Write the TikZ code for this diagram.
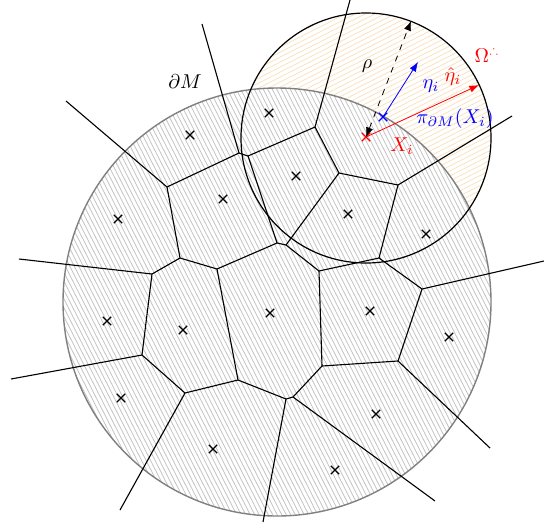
\documentclass[tikz,border=0pt]{standalone}
\usepackage{amsmath,amssymb}
\usepackage{xcolor}
\usepackage{tikz}
\usetikzlibrary{arrows.meta, positioning, calc, shapes.misc}
\definecolor{mBound}{RGB}{128,128,128}
\definecolor{mHatch}{RGB}{196,196,196}
\definecolor{omHatch}{RGB}{250,226,192}

\begin{document}
\begin{tikzpicture}[x=0.5pt, y=-0.5pt,
  site/.style={draw, cross out, minimum size=3.5pt, inner sep=0pt, line width=0.65pt},
  voredge/.style={line width=0.55pt},
  hatchM/.style={draw=mHatch, line width=0.4pt},
  hatchOm/.style={draw=omHatch, line width=0.4pt}]
\useasboundingbox (0,0) rectangle (544,525);

% Manifold M and ball Omega around X_i
\coordinate (Mc) at (277,302);
\coordinate (Oc) at (366,138);

\begin{scope}
  \clip (Oc) circle [radius=62.5pt];
  \foreach \k in {-28,...,28}
    \draw[hatchOm] (Oc) ++(-125, 5*\k+64) -- ++(250,-127);
\end{scope}
\fill[white] (Mc) circle [radius=107pt];
\begin{scope}
  \clip (Mc) circle [radius=107pt];
  \foreach \k in {-54,...,54}
    \draw[hatchM] (Mc) ++(4.5*\k-118,-232) -- ++(236,464);
\end{scope}

\draw[mBound, line width=0.7pt] (Mc) circle [radius=107pt];
\draw[line width=0.6pt] (Oc) circle [radius=62.5pt];

% Voronoi cells
\foreach \name/\pos in {a/{167,187}, b/{239,153}, c/{248,156}, d/{315,127},
   e/{339,173}, f/{398,185}, g/{379,258}, h/{277,243}, i/{286,245},
   j/{319,271}, k/{422,289}, l/{322,366}, m/{398,361}, n/{180,258},
   o/{152,274}, p/{217,269}, q/{238,380}, r/{142,355}, s/{185,393},
   t/{286,399}, u/{293,397},
   o1/{66,101}, o2/{202,24}, o3/{350,0}, o4/{512,116}, o5/{544,261},
   o6/{490,448}, o7/{435,501}, o8/{263,522}, o9/{120,510}, o10/{11,379},
   o11/{19,259}}
  \coordinate (v\name) at (\pos);

\foreach \a/\b in {o1/a, a/b, b/o2, b/c, c/d, d/o3, c/h, d/e, e/f, f/o4,
   f/g, e/i, h/i, i/j, g/j, g/k, k/o5, j/l, l/m, m/k, m/o6, l/u, u/t,
   u/o7, t/o8, t/q, q/p, p/h, p/n, n/a, n/o, o/o11, o/r, r/o10, r/s,
   s/q, s/o9}
  \draw[voredge] (v\a) -- (v\b);

% sample points
\foreach \x/\y [count=\n] in {190/135, 269/113, 118/219, 223/199, 296/176,
   348/214, 426/234, 107/321, 183/330, 270/313, 370/311, 449/337,
   121/398, 213/449, 376/414, 335/470}
  \node[site] (s\n) at (\x,\y) {};

\node[site, red] (Xi) at (366,137) {};
\node[site, blue] (proj) at (383,117) {};

% normals and radius
\coordinate (rhoEnd) at (411,21);
\coordinate (etaEnd) at (418,62);
\coordinate (etaHatEnd) at (479,85);
\draw[dashed, {Latex}-{Latex}] (Xi.center) -- (rhoEnd);
\draw[blue, -{Latex}] (proj.center) -- (etaEnd);
\draw[red, -{Latex}] (Xi.center) -- (etaHatEnd);

% labels
\node (rhoLab) at (367,66) {$\rho$};
\node[blue] (etaLab) at (431,86) {$\eta_i$};
\node[red] (etaHatLab) at (453,76) {$\hat{\eta}_i$};
\node[red] (omLab) at (487,55) {$\Omega^{\scriptscriptstyle\therefore}$};
\node[red] (XiLab) at (402,146) {$X_i$};
\node[blue] (projLab) at (455,118) {$\pi_{\partial M}(X_i)$};
\node (dMLab) at (185,82) {$\partial M$};
\end{tikzpicture}
\end{document}
